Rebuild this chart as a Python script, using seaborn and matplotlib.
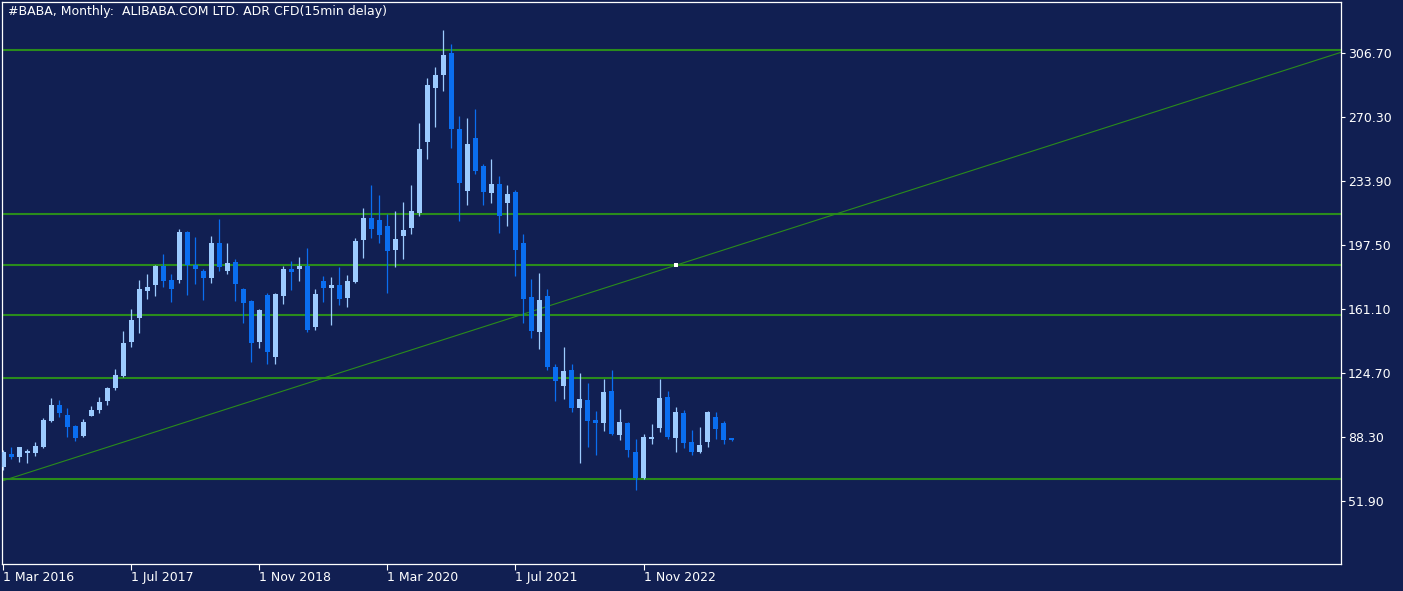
import numpy as np
import pandas as pd
import matplotlib
matplotlib.use("Agg")
import matplotlib.pyplot as plt
import seaborn as sns

# ---- data (monthly candles, Mar 2016 .. Oct 2023) ----
months = pd.date_range("2016-03-01", periods=92, freq="MS")
opens = [71.4, 78.6, 77.1, 79.4, 79.4, 82.8, 97.4, 106.5, 100.8, 94.6, 88.9, 100.4,
         103.7, 108.9, 116.3, 123.0, 142.5, 156.2, 171.3, 174.9, 185.7, 177.6, 177.6, 204.9,
         186.3, 182.9, 178.9, 198.6, 182.9, 187.8, 172.5, 165.6, 142.5, 169.1, 134.0, 168.7,
         183.9, 183.9, 185.7, 151.0, 177.0, 173.2, 174.8, 167.5, 176.6, 200.5, 212.9, 211.7,
         208.3, 194.8, 202.8, 207.3, 215.7, 256.3, 287.0, 294.4, 306.7, 263.6, 228.4, 258.4,
         242.4, 227.3, 232.2, 221.6, 227.8, 198.6, 167.9, 148.2, 168.5, 128.1, 117.5, 126.4,
         105.0, 109.3, 98.0, 96.4, 114.5, 89.6, 96.3, 79.8, 65.2, 87.3, 93.6, 111.1,
         87.9, 102.0, 85.5, 79.9, 85.6, 99.7, 96.3, 87.7]
highs = [81.0, 82.4, 82.6, 81.3, 85.3, 98.9, 110.5, 109.3, 104.8, 95.0, 98.4, 105.9,
         111.1, 116.6, 127.0, 148.6, 161.1, 177.6, 181.0, 186.0, 192.4, 181.0, 206.6, 205.5,
         202.1, 183.9, 202.6, 212.3, 198.6, 189.5, 173.1, 166.2, 161.0, 170.0, 170.2, 185.7,
         188.4, 190.7, 195.8, 172.5, 179.9, 179.3, 185.0, 180.4, 201.5, 218.5, 231.6, 225.9,
         215.0, 216.8, 222.0, 231.6, 266.9, 292.5, 298.7, 319.8, 311.8, 270.9, 269.7, 274.9,
         243.6, 246.4, 236.7, 231.6, 229.0, 203.8, 178.2, 181.6, 172.5, 129.8, 139.5, 129.8,
         124.7, 119.0, 103.1, 121.3, 126.4, 104.2, 97.0, 87.2, 90.0, 95.7, 121.3, 114.5,
         105.4, 103.7, 92.3, 94.0, 103.1, 102.5, 97.4, 87.9]
lows = [69.5, 75.8, 74.2, 73.7, 77.5, 82.0, 96.8, 99.8, 88.1, 86.2, 88.5, 100.0,
        102.1, 106.7, 115.2, 122.6, 139.7, 147.6, 167.0, 168.7, 173.8, 165.2, 176.1, 169.2,
        175.5, 166.4, 176.1, 182.9, 181.2, 165.8, 153.3, 131.1, 139.1, 130.0, 130.0, 164.1,
        172.1, 177.2, 148.2, 149.3, 165.2, 152.2, 163.5, 162.4, 176.0, 190.3, 201.6, 198.8,
        170.4, 185.2, 189.7, 203.9, 214.0, 246.6, 264.8, 285.3, 252.8, 211.3, 220.4, 238.1,
        220.4, 221.6, 204.5, 208.5, 180.0, 153.1, 144.8, 138.5, 126.6, 108.9, 110.1, 102.7,
        73.7, 82.8, 78.2, 91.9, 89.5, 86.8, 77.1, 58.2, 64.5, 84.5, 91.3, 87.3,
        79.9, 82.2, 78.2, 79.5, 82.8, 87.3, 84.5, 86.0]
closes = [79.9, 77.1, 82.4, 80.5, 83.2, 98.0, 106.5, 102.1, 94.2, 87.9, 96.8, 103.7,
          108.2, 116.2, 123.6, 141.8, 154.8, 172.5, 173.6, 185.7, 177.2, 172.6, 204.9, 186.3,
          184.0, 178.9, 198.6, 185.2, 187.3, 175.5, 164.7, 141.9, 160.5, 136.8, 169.6, 183.9,
          182.3, 185.7, 149.3, 169.6, 173.0, 174.8, 167.0, 177.0, 199.8, 212.9, 206.8, 203.4,
          194.3, 200.9, 206.0, 216.8, 252.1, 288.5, 294.2, 305.6, 263.6, 232.8, 254.9, 239.8,
          227.8, 232.2, 214.2, 226.5, 194.8, 166.8, 148.8, 166.2, 128.3, 120.3, 125.8, 105.0,
          109.9, 97.6, 96.4, 113.9, 90.2, 96.8, 81.1, 65.2, 88.3, 88.3, 110.5, 88.5,
          102.5, 85.1, 79.9, 83.8, 102.5, 93.0, 86.8, 86.8]

price_ticks = [306.70, 270.30, 233.90, 197.50, 161.10, 124.70, 88.30, 51.90]
date_tick_pos = [0, 16, 32, 48, 64, 80]
date_tick_labels = ["1 Mar 2016", "1 Jul 2017", "1 Nov 2018", "1 Mar 2020", "1 Jul 2021", "1 Nov 2022"]
level_lines = [308.6, 215.3, 186.3, 157.9, 122.0, 64.6]
trend_p1 = (0.0, 63.5)
trend_p2 = (84.1, 186.1)
title = "#BABA, Monthly:  ALIBABA.COM LTD. ADR CFD(15min delay)"

# ---- style ----
BG = "#111f52"
BULL = "#9ccbff"
BEAR = "#0a6ef0"
GREEN = "#2a8c1c"

sns.set_theme(style="dark", rc={"axes.facecolor": BG, "figure.facecolor": BG})
plt.rcParams["font.family"] = ["DejaVu Sans"]

df = pd.DataFrame({"month": months, "open": opens, "high": highs, "low": lows, "close": closes})
df["x"] = np.arange(len(df))
df["bull"] = df["close"] >= df["open"]
df["color"] = np.where(df["bull"], BULL, BEAR)
df["bottom"] = df[["open", "close"]].min(axis=1)
df["height"] = (df["close"] - df["open"]).abs().clip(lower=0.6)

fig = plt.figure(figsize=(14.03, 5.91), dpi=100)
ax = fig.add_axes([2 / 1403, 27 / 591, 1339 / 1403, 562 / 591])
ax.set_facecolor(BG)

# level lines
for lv in level_lines:
    ax.axhline(lv, color=GREEN, lw=1.5, zorder=1)
# trend line
ax.axline(trend_p1, trend_p2, color=GREEN, lw=0.8, zorder=1)

# wicks
ax.vlines(df["x"], df["low"], df["high"], colors=df["color"], lw=0.9, zorder=2)
# bodies
ax.bar(df["x"], df["height"], bottom=df["bottom"], width=0.625,
       color=df["color"], linewidth=0, zorder=3)

# trend line handle
ax.plot([trend_p2[0]], [trend_p2[1]], marker="s", ms=2.5, color="white",
        markeredgewidth=0, zorder=4)

ax.set_xlim(-0.125, 167.1)
ax.set_ylim(16.1, 335.7)

ax.yaxis.tick_right()
ax.set_yticks(price_ticks)
ax.set_yticklabels([f"{v:.2f}" for v in price_ticks])
ax.set_xticks(date_tick_pos)
ax.set_xticklabels(date_tick_labels, ha="left")
ax.tick_params(axis="y", colors="white", labelcolor="white", labelsize=9,
               length=3, width=0.8, direction="out", pad=2, right=True, left=False)
ax.tick_params(axis="x", colors="white", labelcolor="white", labelsize=9,
               length=4, width=0.8, direction="out", pad=1, bottom=True)
for lab in ax.get_xticklabels():
    lab.set_horizontalalignment("left")
ax.grid(False)
for s in ax.spines.values():
    s.set_visible(True)
    s.set_color("white")
    s.set_linewidth(0.9)
ax.set_xlabel("")
ax.set_ylabel("")

fig.text(8 / 1403, 1 - 5 / 591, title, color="white", fontsize=9, ha="left", va="top")

fig.savefig("out.png", dpi=100, facecolor=BG)
